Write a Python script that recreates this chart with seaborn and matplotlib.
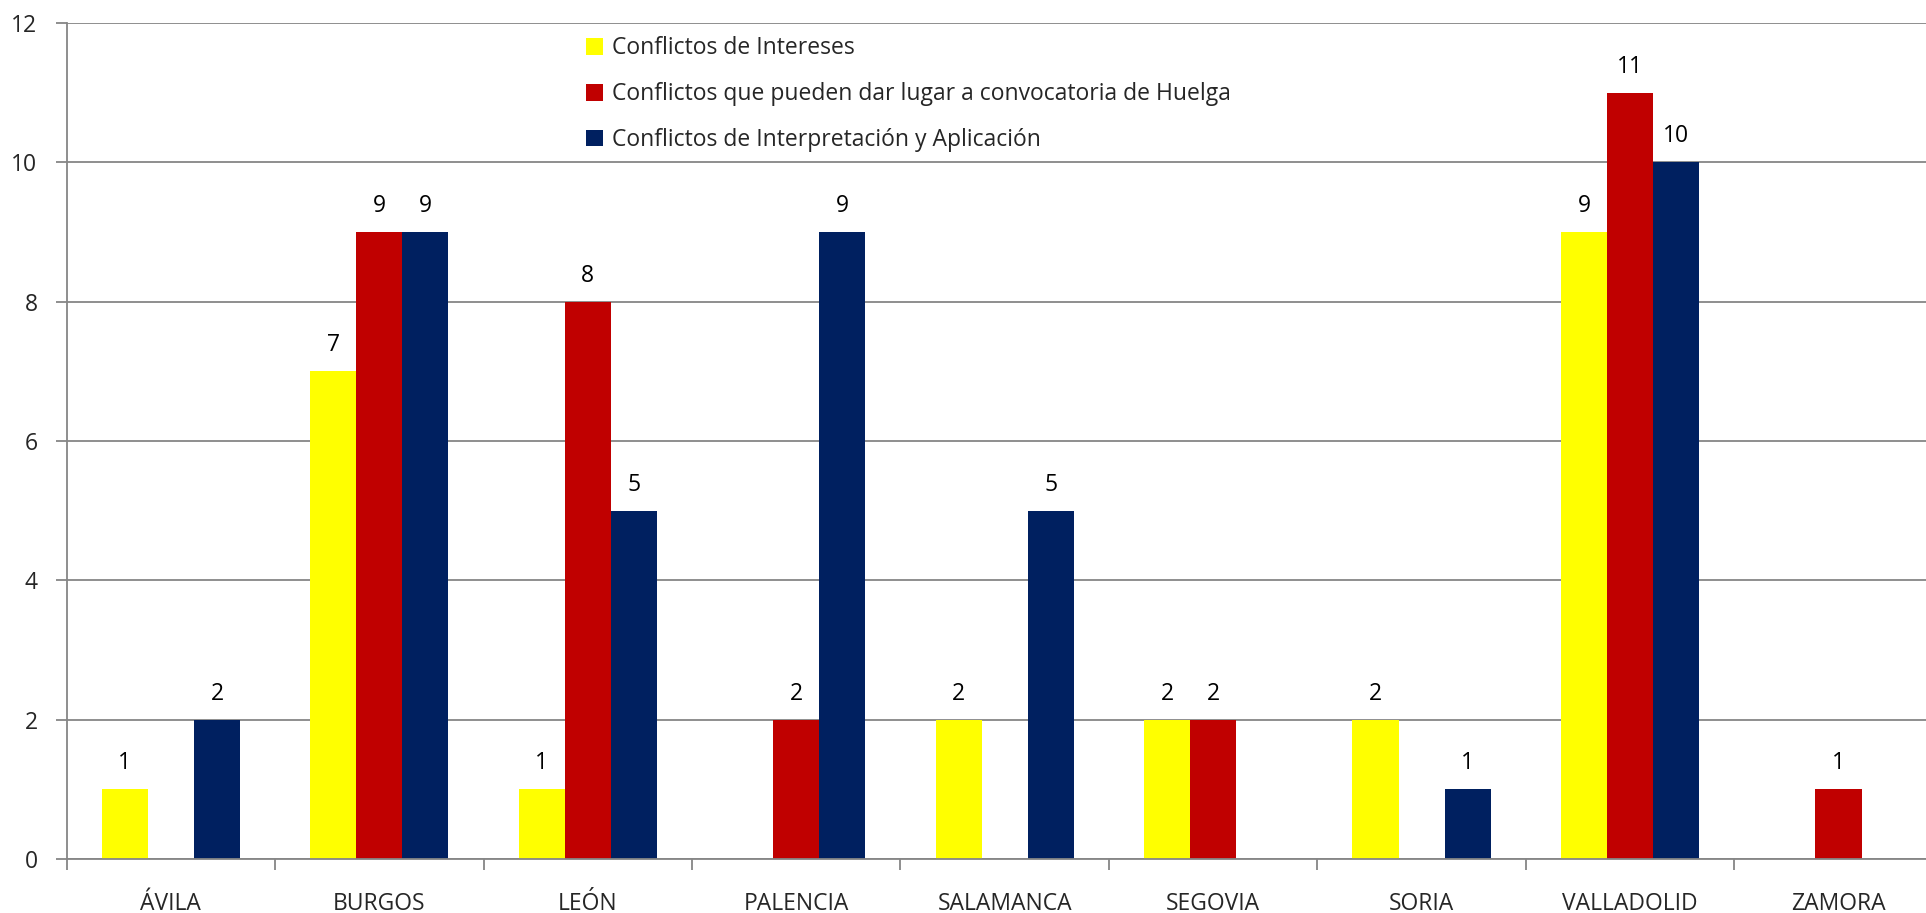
import numpy as np
import pandas as pd
import matplotlib
matplotlib.use("Agg")
import matplotlib.pyplot as plt
import seaborn as sns

# ── Data ──────────────────────────────────────────────────────────────────────
provincias = ["ÁVILA", "BURGOS", "LEÓN", "PALENCIA", "SALAMANCA",
              "SEGOVIA", "SORIA", "VALLADOLID", "ZAMORA"]
series = ["Conflictos de Intereses",
          "Conflictos que pueden dar lugar a convocatoria de Huelga",
          "Conflictos de Interpretación y Aplicación"]
intereses = [1, 7, 1, 0, 2, 2, 2, 9, 0]
huelga = [0, 9, 8, 2, 0, 2, 0, 11, 1]
interpretacion = [2, 9, 5, 9, 5, 0, 1, 10, 0]
colores = ["#FFFF00", "#C00000", "#002060"]

df = pd.DataFrame({
    "provincia": provincias * 3,
    "serie": np.repeat(series, len(provincias)),
    "valor": intereses + huelga + interpretacion,
})

# ── Style ─────────────────────────────────────────────────────────────────────
sns.set_style("white")
plt.rcParams["font.family"] = ["Open Sans", "DejaVu Sans"]
GRID = "#868686"
FS = 16.5

fig = plt.figure(figsize=(19.26, 9.13), dpi=100)
ax = fig.add_axes([66.7 / 1926, 1 - 859 / 913, 1876 / 1926, (859 - 23) / 913])

sns.barplot(data=df, x="provincia", y="valor", hue="serie", order=provincias,
            hue_order=series, palette=colores, width=0.663, gap=0,
            saturation=1, linewidth=0, ax=ax, legend=True)

for cont in ax.containers:
    labels = [f"{int(v)}" if v > 0 else "" for v in cont.datavalues]
    ax.bar_label(cont, labels=labels, padding=10, fontsize=FS, color="black")

# ── Axes ──────────────────────────────────────────────────────────────────────
ax.set_ylim(0, 12)
ax.set_xlim(-0.5, len(provincias) - 0.5)
ax.set_yticks(range(0, 13, 2))
ax.yaxis.grid(True, color=GRID, linewidth=1.3)
ax.set_axisbelow(True)
ax.set_xlabel("")
ax.set_ylabel("")

ax.set_xticks(range(len(provincias)))
ax.set_xticklabels(provincias)
ax.set_xticks(np.arange(-0.5, len(provincias), 1), minor=True)
ax.tick_params(axis="x", which="major", length=0, pad=24, labelsize=FS)
ax.tick_params(axis="x", which="minor", length=8, width=1.3, color=GRID,
               direction="out", bottom=True)
ax.tick_params(axis="y", length=8, width=1.3, color=GRID, direction="out",
               left=True, pad=13, labelsize=FS)

for s in ["top", "right"]:
    ax.spines[s].set_visible(False)
for s in ["left", "bottom"]:
    ax.spines[s].set_color(GRID)
    ax.spines[s].set_linewidth(1.3)

leg = ax.legend(loc="upper left", bbox_to_anchor=(0.272, 0.995), frameon=False,
                fontsize=FS, handlelength=0.75, handleheight=0.75,
                handletextpad=0.4, labelspacing=0.95, borderaxespad=0)

fig.savefig("out.png", dpi=100)
